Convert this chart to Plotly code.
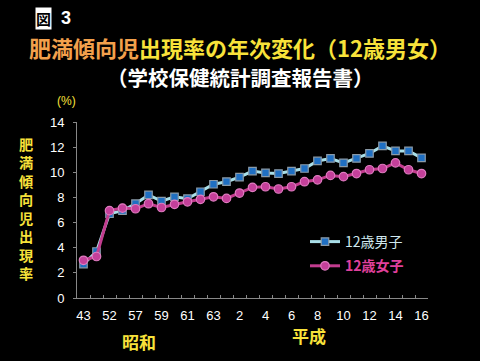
import plotly.graph_objects as go

categories = ["S43", "S48", "S52", "S55", "S57", "S58", "S59", "S60", "S61", "S62", "S63",
              "H1", "H2", "H3", "H4", "H5", "H6", "H7", "H8", "H9", "H10",
              "H11", "H12", "H13", "H14", "H15", "H16"]
tick_cats = ["S43", "S52", "S57", "S59", "S61", "S63", "H2", "H4", "H6", "H8", "H10", "H12", "H14", "H16"]
tick_labels = ["43", "52", "57", "59", "61", "63", "2", "4", "6", "8", "10", "12", "14", "16"]
boys = [2.7, 3.7, 6.7, 6.95, 7.5, 8.2, 7.7, 8.05, 7.9, 8.45, 9.05, 9.25, 9.62, 10.1, 9.95, 9.9, 10.1,
        10.3, 10.9, 11.1, 10.75, 11.1, 11.5, 12.1, 11.7, 11.7, 11.15]
girls = [3.0, 3.3, 6.95, 7.15, 7.1, 7.5, 7.2, 7.45, 7.65, 7.85, 8.05, 7.92, 8.35, 8.8, 8.85, 8.67, 8.85,
         9.25, 9.4, 9.75, 9.65, 9.9, 10.2, 10.3, 10.75, 10.2, 9.9]
y_ticks = [0, 2, 4, 6, 8, 10, 12, 14]

W, H = 480, 361
L, R, T, B = 77, 428, 122, 298

def px(x):
    return (x - L) / (R - L)

def py(y):
    return (B - y) / (B - T)

fig = go.Figure()
fig.add_trace(go.Scatter(
    x=categories, y=boys, mode="lines+markers", legendgroup="boys",
    name="<span style='color:#cfe8ee'>12歳男子</span>",
    line=dict(color="#a9dfe8", width=3),
    marker=dict(symbol="square", size=7.5, color="#1f6fc2", line=dict(color="#8a9aa8", width=1.2)),
))
fig.add_trace(go.Scatter(
    x=categories, y=girls, mode="lines+markers", legendgroup="girls",
    name="<b><span style='color:#e0409c'>12歳女子</span></b>",
    line=dict(color="#c23c8e", width=3),
    marker=dict(symbol="circle", size=8.5, color="#c4409a", line=dict(color="#e07cc0", width=1.2)),
))

fig.update_layout(
    width=W, height=H,
    margin=dict(l=L, r=W - R, t=T, b=H - B),
    paper_bgcolor="black", plot_bgcolor="black",
    font=dict(family="Liberation Sans, Arial, sans-serif", color="white", size=13),
    showlegend=True,
    legend=dict(x=px(305), y=py(226), xanchor="left", yanchor="top",
                bgcolor="rgba(0,0,0,0)", font=dict(size=14, family="Noto Sans CJK JP", color="white"),
                itemwidth=30, tracegroupgap=3),
    xaxis=dict(type="category", categoryorder="array", categoryarray=categories,
               range=[-0.5, len(categories) - 0.5],
               tickmode="array", tickvals=categories,
               ticktext=[tick_labels[tick_cats.index(c)] if c in tick_cats else "" for c in categories],
               tickangle=0, ticklabelstandoff=5,
               tickson="boundaries", ticks="inside", ticklen=3, tickcolor="#888",
               showline=True, linecolor="#888", linewidth=1, showgrid=False, zeroline=False,
               tickfont=dict(size=13, color="white")),
    yaxis=dict(range=[0, 14], tickvals=y_ticks, ticks="outside", ticklen=3, tickcolor="#888",
               showline=True, linecolor="#888", linewidth=1, showgrid=False, zeroline=False,
               tickfont=dict(size=13, color="white"), ticklabelstandoff=6),
)

cjk = "Noto Sans CJK JP"
ann = []
ann.append(dict(x=px(43.5), y=py(18), text="<b>図</b>", font=dict(family=cjk, size=15, color="black"),
                bgcolor="white", borderpad=0))
ann.append(dict(x=px(66), y=py(18), text="<b>3</b>", font=dict(family="Liberation Sans", size=18, color="white")))
ann.append(dict(x=px(240), y=py(47),
                text="<b><span style='color:#f2a04c'>肥満傾向児</span><span style='color:#f8e23a'>出現率の年次変化（12歳男女）</span></b>",
                font=dict(family=cjk, size=22)))
ann.append(dict(x=px(240), y=py(77), text="<b>（学校保健統計調査報告書）</b>",
                font=dict(family=cjk, size=20.5, color="white")))
ann.append(dict(x=px(66), y=py(101), text="(%)", font=dict(family="Liberation Sans", size=12, color="#f8e23a")))
ann.append(dict(x=px(26), y=py(208), text="<b>" + "<br>".join("肥満傾向児出現率") + "</b>",
                font=dict(family=cjk, size=14.2, color="#f8e23a")))
ann.append(dict(x=px(139), y=py(341), text="<b>昭和</b>", font=dict(family=cjk, size=17, color="#f8e23a")))
ann.append(dict(x=px(309), y=py(335), text="<b>平成</b>", font=dict(family=cjk, size=17, color="#f8e23a")))
for a in ann:
    a.update(xref="paper", yref="paper", showarrow=False, xanchor="center", yanchor="middle")
fig.update_layout(annotations=ann)

fig.write_html("out.html", config={"displayModeBar": False},
               post_script="document.body.style.margin='0';document.body.style.background='black';")
